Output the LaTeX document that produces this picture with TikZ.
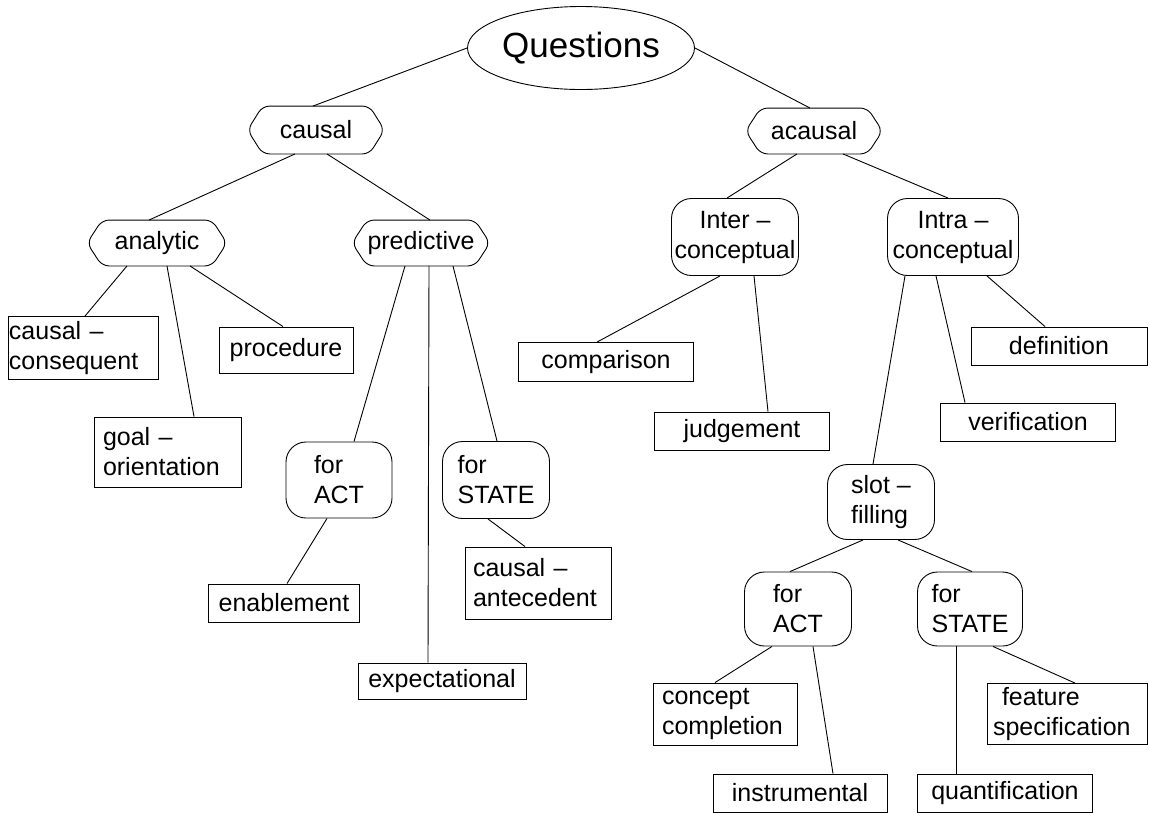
\documentclass[tikz,border=0pt]{standalone}
\usepackage{fontspec}
\setmainfont{Liberation Sans}
\usetikzlibrary{shapes.geometric}
\newcommand\lblfont{\fontsize{25}{30}\selectfont}
\newcommand\hexoutline[1]{\draw[line width=0.9pt,rounded corners=7pt]
  ([xshift=15pt]#1.north west) -- ([xshift=-15pt]#1.north east) -- (#1.east)
  -- ([xshift=-15pt]#1.south east) -- ([xshift=15pt]#1.south west) -- (#1.west) -- cycle;}
\begin{document}
\begin{tikzpicture}[x=1pt,y=-1pt,
  lbl/.style={font=\lblfont, inner sep=0pt, line width=0.9pt},
  rbox/.style={lbl, draw, rectangle},
  rrbox/.style={lbl, draw, rectangle, rounded corners=20pt},
  hexnode/.style={lbl, rectangle},
  conn/.style={line width=0.9pt}]
\fill[white] (0,0) rectangle (1149,812);
\useasboundingbox (0,0) rectangle (1149,812);

% top
\node[lbl, draw, ellipse, minimum width=227pt, minimum height=83pt, font=\fontsize{35}{40}\selectfont] (Q) at (581,48) {Questions};

% hexagonal nodes
\node[hexnode, minimum width=136pt, minimum height=47pt] (causal) at (316,130) {causal};
\node[hexnode, minimum width=136pt, minimum height=45pt] (acausal) at (814,131) {acausal};
\node[hexnode, minimum width=139pt, minimum height=45pt] (analytic) at (157,243) {analytic};
\node[hexnode, minimum width=137pt, minimum height=45pt] (predictive) at (421,243) {predictive};
\hexoutline{causal}
\hexoutline{acausal}
\hexoutline{analytic}
\hexoutline{predictive}

% rounded nodes
\node[rrbox, minimum width=106pt, minimum height=76pt, align=left] (factL) at (339,480) {for\\ACT};
\node[rrbox, minimum width=107pt, minimum height=77pt, align=left] (fstateL) at (496,480) {for\\STATE};
\node[rrbox, minimum width=127pt, minimum height=77pt, align=center] (inter) at (735,237) {Inter –\\conceptual};
\node[rrbox, minimum width=131pt, minimum height=77pt, align=center] (intra) at (953,237) {Intra –\\conceptual};
\node[rrbox, minimum width=107pt, minimum height=75pt, align=left] (slot) at (881,502) {slot –\\filling};
\node[rrbox, minimum width=107pt, minimum height=74pt, align=left] (factR) at (798,609) {for\\ACT};
\node[rrbox, minimum width=105pt, minimum height=74pt, align=left] (fstateR) at (970,609) {for\\STATE};

% rectangles
\node[rbox, minimum width=150pt, minimum height=63pt, text width=148pt, align=left] (cc) at (83,348) {causal –\\consequent};
\node[rbox, minimum width=134pt, minimum height=46pt] (proc) at (286,350) {procedure};
\node[rbox, minimum width=147pt, minimum height=70pt, text width=130pt, align=left] (goal) at (168,452) {goal –\\orientation};
\node[rbox, minimum width=151pt, minimum height=38pt] (enab) at (284,603) {enablement};
\node[rbox, minimum width=146pt, minimum height=72pt, text width=130pt, align=left] (cante) at (538,583) {causal –\\antecedent};
\node[rbox, minimum width=168pt, minimum height=36pt] (expect) at (442,681) {expectational};
\node[rbox, minimum width=175pt, minimum height=39pt] (comp) at (606,362) {comparison};
\node[rbox, minimum width=175pt, minimum height=38pt] (judg) at (742,431) {judgement};
\node[rbox, minimum width=176pt, minimum height=38pt] (defn) at (1059,346) {definition};
\node[rbox, minimum width=175pt, minimum height=38pt] (verif) at (1028,422) {verification};
\node[rbox, minimum width=144pt, minimum height=62pt, text width=126pt, align=left] (concept) at (725,714) {concept\\completion};
\node[rbox, minimum width=160pt, minimum height=61pt, text width=148pt, align=left] (feature) at (1067,714) {\hspace*{9pt}feature\\specification};
\node[rbox, minimum width=174pt, minimum height=38pt] (instr) at (800,793) {instrumental};
\node[rbox, minimum width=175pt, minimum height=38pt] (quant) at (1005,793) {quantification};

% connectors
\draw[conn] (Q.west) -- ([xshift=-3pt]causal.north);
\draw[conn] (Q.east) -- ([xshift=-4pt]acausal.north);
\draw[conn] ([xshift=-21pt]causal.south) -- ([xshift=-8pt]analytic.north);
\draw[conn] ([xshift=11pt]causal.south) -- ([xshift=9pt]predictive.north);
\draw[conn] ([xshift=-30pt]analytic.south) -- ([xshift=2pt]cc.north);
\draw[conn] ([xshift=10pt]analytic.south) -- ([xshift=26pt]goal.north);
\draw[conn] ([xshift=33pt]analytic.south) -- ([xshift=-3pt]proc.north);
\draw[conn] ([xshift=-16pt]predictive.south) -- ([xshift=15pt]factL.north);
\draw[conn] ([xshift=8pt]predictive.south) -- ([xshift=-14pt]expect.north);
\draw[conn] ([xshift=32pt]predictive.south) -- ([xshift=1pt]fstateL.north);
\draw[conn] ([xshift=-12pt]factL.south) -- ([xshift=3pt]enab.north);
\draw[conn] ([xshift=-8pt]fstateL.south) -- ([xshift=-13pt]cante.north);
\draw[conn] ([xshift=-17pt]acausal.south) -- ([xshift=-8pt]inter.north);
\draw[conn] ([xshift=29pt]acausal.south) -- ([xshift=-5pt]intra.north);
\draw[conn] ([xshift=-15pt]inter.south) -- ([xshift=-9pt]comp.north);
\draw[conn] ([xshift=19pt]inter.south) -- ([xshift=26pt]judg.north);
\draw[conn] ([xshift=-48pt]intra.south) -- ([xshift=-8pt]slot.north);
\draw[conn] ([xshift=-17pt]intra.south) -- ([xshift=-63pt]verif.north);
\draw[conn] ([xshift=34pt]intra.south) -- ([xshift=-14pt]defn.north);
\draw[conn] ([xshift=-18pt]slot.south) -- ([xshift=-8pt]factR.north);
\draw[conn] ([xshift=17pt]slot.south) -- ([xshift=2pt]fstateR.north);
\draw[conn] ([xshift=-26pt]factR.south) -- ([xshift=-10pt]concept.north);
\draw[conn] ([xshift=15pt]factR.south) -- ([xshift=33pt]instr.north);
\draw[conn] ([xshift=-14pt]fstateR.south) -- ([xshift=-49pt]quant.north);
\draw[conn] ([xshift=23pt]fstateR.south) -- ([xshift=8pt]feature.north);
\end{tikzpicture}
\end{document}
